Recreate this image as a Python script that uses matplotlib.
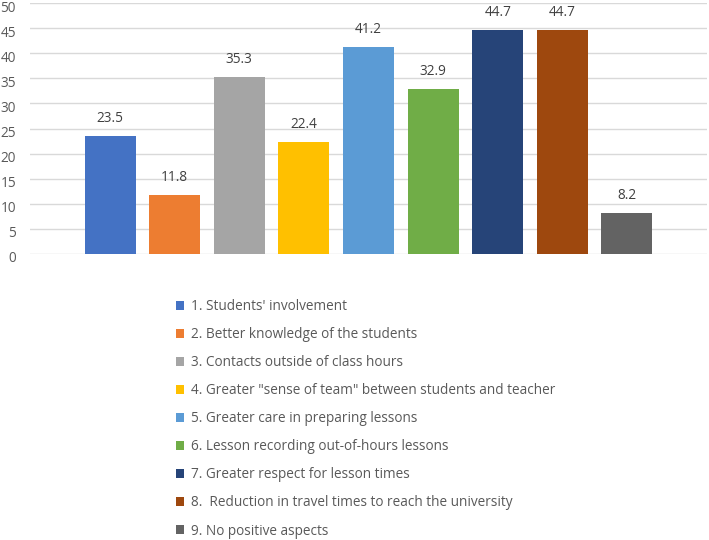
import matplotlib
matplotlib.use("Agg")
import matplotlib.pyplot as plt
from matplotlib.patches import Patch
from matplotlib.transforms import ScaledTranslation

categories = ["1. Students' involvement",
              "2. Better knowledge of the students",
              "3. Contacts outside of class hours",
              "4. Greater \"sense of team\" between students and teacher",
              "5. Greater care in preparing lessons",
              "6. Lesson recording out-of-hours lessons",
              "7. Greater respect for lesson times",
              "8.  Reduction in travel times to reach the university",
              "9. No positive aspects"]
values = [23.5, 11.8, 35.3, 22.4, 41.2, 32.9, 44.7, 44.7, 8.2]
colors = ["#4472C4", "#ED7D31", "#A5A5A5", "#FFC000", "#5B9BD5",
          "#70AD47", "#264478", "#9E480E", "#636363"]
yticks = [0, 5, 10, 15, 20, 25, 30, 35, 40, 45, 50]

plt.rcParams['font.family'] = ['Open Sans', 'DejaVu Sans']
fig = plt.figure(figsize=(7.09, 5.40), dpi=100)
ax = fig.add_axes([30/709, 1-254/540, 677/709, 251/540])

x = list(range(len(values)))
bars = ax.bar(x, values, width=0.79, color=colors, zorder=3)
for xi, v in zip(x, values):
    ax.annotate(f"{v}", (xi, v), xytext=(0, 7), textcoords="offset points",
                ha="center", va="bottom", fontsize=9.8, color="#404040")

ax.set_xlim(-1.24, 9.24)
ax.set_ylim(0, 50)
ax.set_yticks(yticks)
ax.set_yticklabels([str(t) for t in yticks], fontsize=9.8, color="#595959")
ax.set_xticks([])
ax.tick_params(axis="y", length=0, pad=10)
off = ScaledTranslation(0, -3/100, fig.dpi_scale_trans)
for lbl in ax.get_yticklabels():
    lbl.set_transform(lbl.get_transform() + off)
ax.grid(axis="y", color="#D9D9D9", linewidth=1, zorder=0)
for s in ax.spines.values():
    s.set_visible(False)

handles = [Patch(facecolor=c, edgecolor="none") for c in colors]
fig.legend(handles, categories, loc="upper left",
           bbox_to_anchor=(176/709, 1-299/540), frameon=False,
           fontsize=9.8, labelcolor="#595959", handlelength=0.6,
           handleheight=0.6, handletextpad=0.5, labelspacing=0.96,
           borderaxespad=0, borderpad=0)

fig.savefig("out.png", dpi=100)
